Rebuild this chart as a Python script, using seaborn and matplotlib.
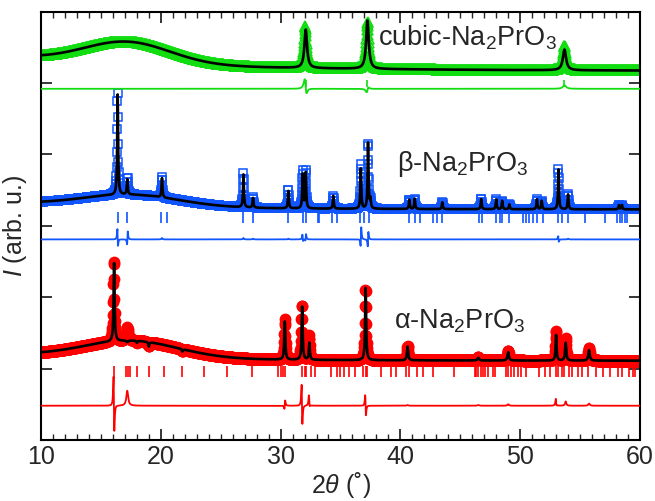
import numpy as np
import pandas as pd
import seaborn as sns
import matplotlib.pyplot as plt

# --- values (2theta in deg, intensity in axis units) ---
# background: constant level, decay amplitude/length, amorphous hump (amp, centre, sigma)
cub_bg = [5.17, 0.18, 15.0, 0.30, 17.2, 3.6]
beta_bg = [3.23, 0.08, 12.0, 0.165, 17.5, 4.05]
alpha_bg = [1.11, 0.08, 12.0, 0.24, 17.5, 3.96]

# peaks: position, calculated top, observed top, obs shift, half width
cub_pos = [32.1, 37.25, 53.7]
cub_calc = [5.75, 5.88, 5.47]
cub_obs = [5.80, 5.86, 5.52]
cub_shift = [-0.035, 0.01, 0.0]
cub_w = [0.13, 0.13, 0.16]

beta_pos = [16.4, 17.2, 20.1, 26.9, 27.7, 30.65, 31.85, 32.1, 34.4, 36.7, 37.3, 37.5,
            40.75, 41.2, 43.5, 46.75, 48.0, 48.5, 49.1, 51.4, 51.8, 53.2, 54.0, 58.25, 58.5]
beta_calc = [4.84, 3.65, 3.67, 3.72, 3.39, 3.50, 3.74, 3.74, 3.42, 3.80, 4.16, 3.37,
             3.37, 3.38, 3.33, 3.38, 3.37, 3.35, 3.30, 3.37, 3.35, 3.79, 3.44, 3.29, 3.29]
beta_obs = [4.88, 3.68, 3.69, 3.74, 3.40, 3.51, 3.77, 3.78, 3.42, 3.86, 4.17, 3.37,
            3.37, 3.38, 3.33, 3.38, 3.37, 3.35, 3.30, 3.37, 3.35, 3.80, 3.45, 3.29, 3.29]
beta_shift = [-0.006, 0.03, 0, 0, 0, 0, -0.006, 0.006, 0, 0.016, 0.008, 0,
              0, 0, 0, 0, 0, 0, 0, 0, 0, -0.005, 0, 0, 0]
beta_w = [0.045] * len(beta_pos)

alpha_pos = [16.1, 17.2, 18.0, 19.0, 21.8, 30.35, 31.8, 32.4, 37.1, 40.6, 46.5,
             49.0, 53.0, 53.8, 55.75]
alpha_calc = [2.48, 1.37, 1.36, 1.31, 1.24, 1.68, 1.87, 1.36, 2.13, 1.31, 1.15,
              1.23, 1.47, 1.36, 1.26]
alpha_obs = [2.52, 1.58, 1.36, 1.31, 1.24, 1.70, 1.90, 1.46, 2.14, 1.32, 1.16,
             1.25, 1.54, 1.42, 1.29]
alpha_shift = [-0.028, 0.0, 0, 0, 0, 0.008, -0.03, -0.02, -0.011, 0, 0, 0, -0.008, 0, 0]
alpha_w = [0.05, 0.09, 0.05, 0.05, 0.05, 0.05, 0.05, 0.05, 0.05, 0.06, 0.08,
           0.07, 0.05, 0.06, 0.07]

# Bragg reflection markers
cub_ticks = [32.1, 37.25, 53.7]
beta_ticks = [16.4, 17.2, 20.0, 20.5, 26.9, 27.7, 30.6, 31.85, 32.1, 33.1, 33.2, 34.3,
              34.7, 36.6, 37.0, 37.4, 40.75, 41.25, 41.6, 42.7, 43.1, 43.5, 46.6, 46.8,
              48.0, 48.3, 48.5, 49.1, 50.2, 50.5, 50.75, 51.1, 51.4, 51.9, 53.2, 53.5,
              54.0, 55.4, 57.1, 58.1, 58.3, 58.5, 58.75, 58.9]
alpha_ticks = [16.1, 17.1, 17.3, 17.4, 18.0, 19.0, 20.25, 21.8, 23.6, 25.5, 27.6, 29.8,
               30.0, 30.2, 30.4, 31.8, 32.0, 32.1, 32.5, 32.9, 34.2, 34.7, 35.0, 35.3,
               35.7, 36.2, 36.9, 37.1, 37.2, 38.4, 39.2, 39.6, 40.5, 40.7, 41.4, 41.9,
               42.7, 44.5, 46.2, 46.3, 46.5, 46.7, 46.9, 47.1, 47.3, 47.7, 47.9, 48.8,
               49.0, 49.2, 49.5, 49.8, 50.1, 50.5, 51.6, 52.1, 52.5, 53.0, 53.2, 53.5,
               53.7, 54.1, 54.3, 54.8, 55.2, 55.7, 56.3, 56.9, 57.5, 58.2, 58.5, 59.1,
               59.4, 59.6]

diff_zero = [4.92, 2.81, 0.48]
tick_span = [(4.95, 5.05), (3.04, 3.20), (0.88, 1.04)]
labels = ['cubic-Na$_2$PrO$_3$', 'β-Na$_2$PrO$_3$', 'α-Na$_2$PrO$_3$']
label_xy = [(38.1, 5.63), (39.7, 3.86), (39.45, 1.66)]

green, blue, red = '#11DD11', '#1155FF', '#FF0000'

tth = np.arange(10.0, 60.001, 0.02)


def background(p):
    c, a, tau, h, x0, s = p
    return c + a * np.exp(-(tth - 10) / tau) + h * np.exp(-(tth - x0) ** 2 / (2 * s * s))


def pattern(bg, pos, tops, shift, w):
    y = bg.copy()
    for p, t, d, g in zip(pos, tops, shift, w):
        base = np.interp(p, tth, bg)
        y += (t - base) * g * g / ((tth - p - d) ** 2 + g * g)
    return y


phases = [
    (cub_bg, cub_pos, cub_calc, cub_obs, cub_shift, cub_w, cub_ticks, green, '^', 6.5),
    (beta_bg, beta_pos, beta_calc, beta_obs, beta_shift, beta_w, beta_ticks, blue, 's', 6),
    (alpha_bg, alpha_pos, alpha_calc, alpha_obs, alpha_shift, alpha_w, alpha_ticks, red, 'o', 8.5),
]

sns.set_style('ticks')
plt.rcParams['font.family'] = ['Liberation Sans', 'DejaVu Sans']
plt.rcParams['mathtext.fontset'] = 'custom'
plt.rcParams['mathtext.rm'] = 'Liberation Sans'
plt.rcParams['mathtext.it'] = 'Liberation Sans:italic'

fig = plt.figure(figsize=(6.55, 5.01), dpi=100)
ax = fig.add_axes([0.0626, 0.1218, 0.9144, 0.8548])

for i, (bgp, pos, calc, obs, sh, w, ticks, col, mk, ms) in enumerate(phases):
    bg = background(bgp)
    y_calc = pattern(bg, pos, calc, [0] * len(pos), w)
    y_obs = pattern(bg, pos, obs, sh, w)
    df = pd.DataFrame({'tth': tth, 'obs': y_obs, 'calc': y_calc,
                       'diff': y_obs - y_calc + diff_zero[i]})
    if mk == 'o':
        ax.plot(df['tth'], df['obs'], ls='none', marker=mk, ms=ms, mfc=col, mec=col, mew=0, zorder=2)
    else:
        ax.plot(df['tth'], df['obs'], ls='none', marker=mk, ms=ms, mfc='none', mec=col, mew=1.1, zorder=2)
    sns.lineplot(data=df, x='tth', y='calc', color='black', lw=1.9, ax=ax, zorder=3)
    sns.lineplot(data=df, x='tth', y='diff', color=col, lw=1.3, ax=ax, zorder=3)
    ax.vlines(ticks, tick_span[i][0], tick_span[i][1], color=col, lw=1.2)
    ax.text(label_xy[i][0], label_xy[i][1], labels[i], fontsize=19.5, va='center', ha='left')

ax.set_xlim(10, 60)
ax.set_ylim(0, 6)
ax.set_xticks([10, 20, 30, 40, 50, 60])
ax.set_xticks(np.arange(10, 61, 1), minor=True)
ax.set_yticks([1, 2, 3, 4, 5])
ax.set_yticklabels([])
ax.tick_params(direction='in', top=True, right=True, length=8, width=1.3, labelsize=18)
ax.tick_params(which='minor', direction='in', top=True, length=4.5, width=1.0)
for s in ax.spines.values():
    s.set_linewidth(1.5)
    s.set_color('black')
ax.set_xlabel(r'2$\it{\theta}$ (˚)', fontsize=18, labelpad=1)
ax.set_ylabel(r'$\it{I}$ (arb. u.)', fontsize=18, labelpad=5)
plt.savefig('out.png', dpi=100)
